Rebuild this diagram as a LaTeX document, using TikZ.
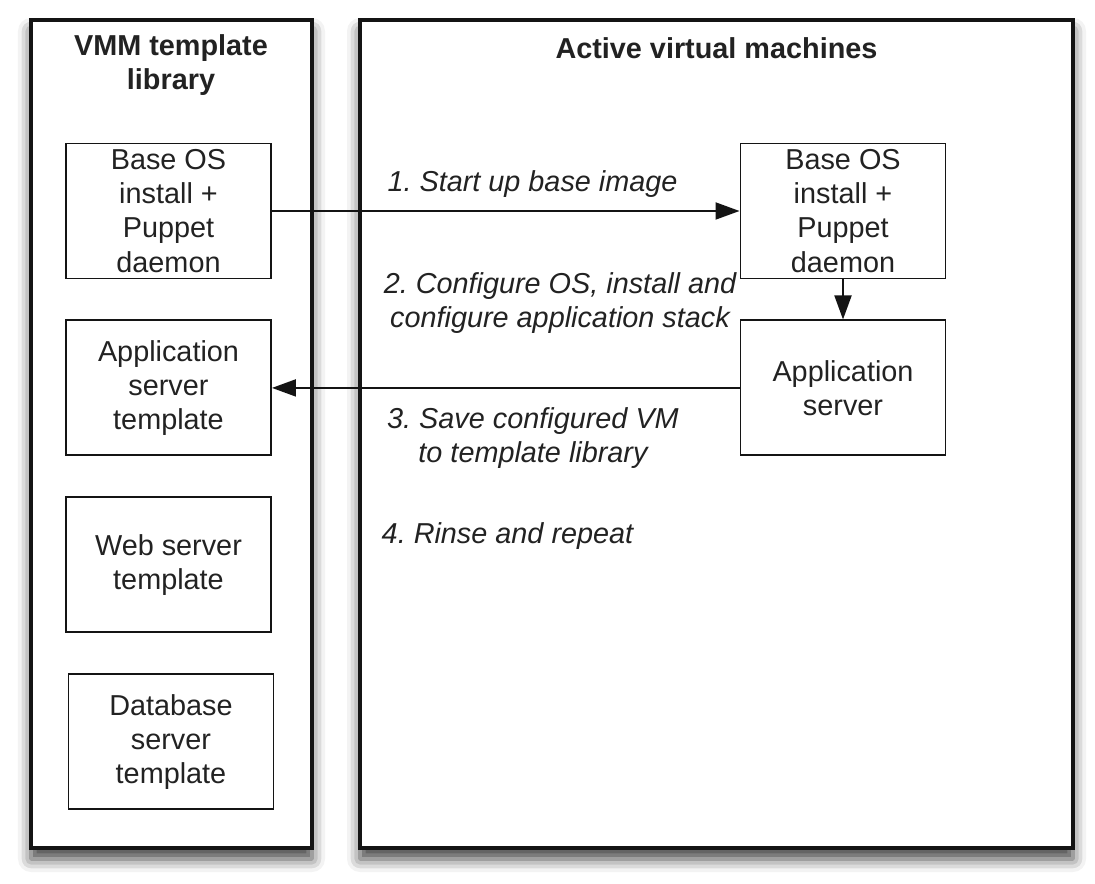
\documentclass[tikz,border=0pt]{standalone}
\usepackage{fontspec}
\setmainfont{Liberation Sans}
\usepackage{tikz}
\usetikzlibrary{positioning, arrows.meta, shadows.blur}
\frenchspacing
\definecolor{primaryColor}{RGB}{20, 20, 20}
\definecolor{textColor}{RGB}{34, 34, 34}
\tikzset{
    frame_box/.style={
        draw=primaryColor,
        line width=2.8pt,
        fill=white,
        blur shadow={shadow xshift=0pt, shadow yshift=-0.22cm,
            shadow blur radius=0.26cm, shadow opacity=75}
    },
    item_box/.style={
        draw=primaryColor,
        line width=1.1pt,
        fill=white,
        text=textColor,
        align=center,
        minimum width=4.1cm,
        minimum height=2.7cm,
        inner sep=0pt,
        font=\fontsize{16.4}{19.4}\selectfont
    },
    title_text/.style={
        align=center,
        text=textColor,
        font=\fontsize{16.4}{19.4}\selectfont\bfseries
    },
    step_label/.style={
        align=center,
        text=textColor,
        font=\fontsize{16.4}{19.4}\selectfont\itshape
    },
    flow_edge/.style={
        -{Triangle[length=0.48cm, width=0.34cm]},
        line width=1.1pt,
        draw=primaryColor
    }
}

\begin{document}
\begin{tikzpicture}[node distance=0.8cm]
    \useasboundingbox (0,0) rectangle (21.9,-17.68);
    \path[frame_box] (0.62,-0.40) rectangle (6.24,-16.96);
    \path[frame_box] (7.20,-0.40) rectangle (21.46,-16.96);

    \node[title_text] (lib_title) at (3.42,-1.30) {VMM template\\library};
    \node[title_text] (vm_title) at (14.33,-0.96) {Active virtual machines};

    \node[item_box] (lib_base) at (3.37,-4.22) {Base OS\\install +\\Puppet\\daemon};
    \node[item_box, below=of lib_base] (lib_app) {Application\\server\\template};
    \node[item_box, below=of lib_app] (lib_web) {Web server\\template};
    \node[item_box, below=of lib_web, xshift=0.05cm] (lib_db) {Database\\server\\template};

    \node[item_box] (vm_base) at (16.86,-4.22) {Base OS\\install +\\Puppet\\daemon};
    \node[item_box, below=of vm_base] (vm_app) {Application\\server};

    \node[step_label] (step_one) at (10.65,-3.68) {1. Start up base image};
    \node[step_label] (step_two) at (11.20,-6.06) {2. Configure OS, install and\\configure application stack};
    \node[step_label] (step_three) at (10.66,-8.77) {3. Save configured VM\\to template library};
    \node[step_label] (step_four) at (10.15,-10.72) {4. Rinse and repeat};

    \draw[flow_edge] (lib_base) -- (vm_base);
    \draw[flow_edge] (vm_base) -- (vm_app);
    \draw[flow_edge] (vm_app) -- (lib_app);
\end{tikzpicture}
\end{document}
